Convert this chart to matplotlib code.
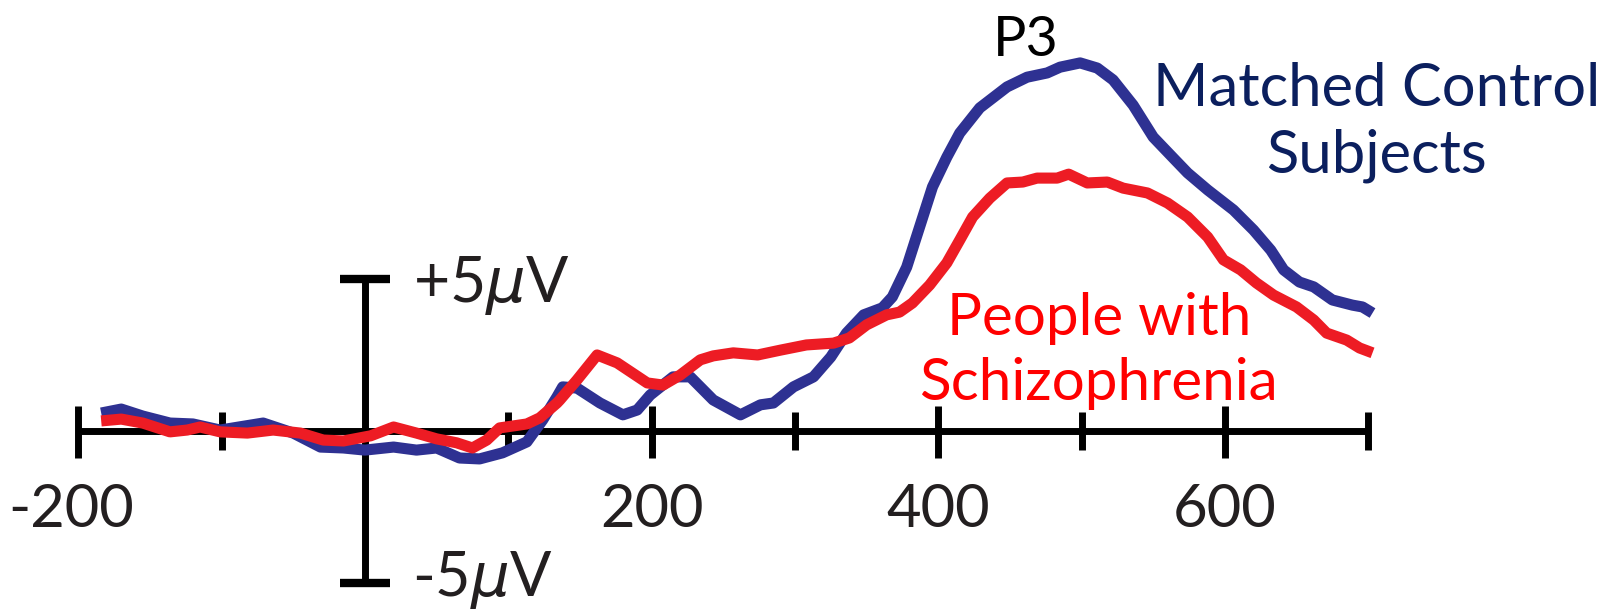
import matplotlib
matplotlib.use("Agg")
import matplotlib.pyplot as plt

# grand average ERP at Pz, time in ms, amplitude in microvolts
t_ctrl = [-184, -170, -155, -136, -120, -101, -71, -50, -31, -15, 0, 20, 36, 50, 66, 80,
          96, 113, 124, 134, 138, 148, 164, 180, 190, 199, 215, 227, 243, 262, 276, 285,
          299, 313, 325, 336, 348, 361, 368, 378, 387, 396, 406, 415, 429, 448, 462, 476,
          485, 499, 511, 522, 536, 550, 564, 574, 588, 606, 620, 632, 641, 652, 662, 675,
          689, 696, 703]
v_ctrl = [0.59, 0.72, 0.49, 0.26, 0.23, 0.03, 0.26, -0.07, -0.53, -0.56, -0.63, -0.53,
          -0.63, -0.56, -0.89, -0.92, -0.72, -0.36, 0.36, 1.12, 1.45, 1.41, 0.92, 0.53,
          0.69, 1.18, 1.78, 1.78, 1.02, 0.53, 0.86, 0.92, 1.45, 1.78, 2.43, 3.22, 3.82,
          4.05, 4.41, 5.39, 6.71, 8.03, 9.01, 9.80, 10.63, 11.32, 11.64, 11.78, 11.97,
          12.11, 11.94, 11.55, 10.72, 9.67, 8.98, 8.49, 7.93, 7.27, 6.61, 5.95, 5.30,
          4.90, 4.74, 4.31, 4.14, 4.08, 3.88]

t_scz = [-184, -170, -155, -136, -124, -115, -101, -82, -64, -45, -29, -15, 4, 20, 36,
         50, 64, 75, 85, 94, 113, 122, 134, 136, 148, 162, 176, 197, 208, 220, 234, 243,
         257, 274, 290, 308, 327, 338, 350, 364, 373, 382, 394, 406, 415, 424, 436, 448,
         459, 469, 483, 491, 504, 518, 529, 546, 560, 574, 588, 599, 611, 622, 634, 650,
         662, 671, 685, 694, 703]
v_scz = [0.33, 0.39, 0.26, -0.03, 0.03, 0.13, -0.03, -0.07, 0.03, -0.07, -0.30, -0.33,
         -0.16, 0.13, -0.07, -0.26, -0.39, -0.56, -0.30, 0.10, 0.23, 0.43, 0.92, 1.02,
         1.68, 2.50, 2.24, 1.58, 1.51, 1.84, 2.34, 2.47, 2.57, 2.50, 2.66, 2.83, 2.89,
         3.06, 3.49, 3.82, 3.91, 4.21, 4.80, 5.53, 6.28, 7.04, 7.66, 8.16, 8.19, 8.32,
         8.32, 8.45, 8.16, 8.19, 7.99, 7.83, 7.50, 7.04, 6.38, 5.63, 5.30, 4.87, 4.47,
         4.08, 3.65, 3.22, 2.99, 2.73, 2.57]

major_ticks = [-200, 200, 400, 600]
minor_ticks = [-100, 100, 300, 500, 700]
tick_labels = ["-200", "200", "400", "600"]

blue = "#2e3192"
red = "#ed1c24"
ink = "#231f20"

plt.rcParams["font.family"] = ["Lato", "DejaVu Sans"]

fig = plt.figure(figsize=(16.09, 6.13), dpi=100)
ax = fig.add_axes([0, 0, 1, 1])
ax.set_xlim(-254.6, 868.0)
ax.set_ylim(-5.99, 14.18)
ax.axis("off")

# time axis with tick marks
ax.plot([-200, 700], [0, 0], color="black", lw=5, solid_capstyle="butt", zorder=2)
for t in major_ticks:
    ax.plot([t, t], [-0.89, 0.82], color="black", lw=5, solid_capstyle="butt", zorder=2)
for t in minor_ticks:
    ax.plot([t, t], [-0.62, 0.62], color="black", lw=5, solid_capstyle="butt", zorder=2)
for t, lab in zip(major_ticks, tick_labels):
    x = t - 5 if t < 0 else t
    ax.text(x, -3.16, lab, ha="center", va="baseline", fontsize=43, color=ink)

# 5 uV calibration bar at time zero
ax.plot([0, 0], [-5, 5], color="black", lw=5, solid_capstyle="butt", zorder=2)
for v in (-5, 5):
    ax.plot([-17.4, 17.4], [v, v], color="black", lw=6, solid_capstyle="butt", zorder=2)
ax.text(33.6, 4.24, r"+5$\mu$V", ha="left", va="baseline", fontsize=45, color=ink)
ax.text(32.8, -5.42, r"-5$\mu$V", ha="left", va="baseline", fontsize=44, color=ink)

# waveforms
ax.plot(t_ctrl, v_ctrl, color=blue, lw=8, solid_joinstyle="round",
        solid_capstyle="butt", zorder=3)
ax.plot(t_scz, v_scz, color=red, lw=8, solid_joinstyle="round",
        solid_capstyle="butt", zorder=4)

ax.text(461, 12.34, "P3", ha="center", va="baseline", fontsize=40, color="black")
ax.text(706, 10.69, "Matched Control", ha="center", va="baseline", fontsize=43,
        color="#0b1f5e")
ax.text(706, 8.52, "Subjects", ha="center", va="baseline", fontsize=43, color="#0b1f5e")
ax.text(512, 3.16, "People with", ha="center", va="baseline", fontsize=42, color="#ff0000")
ax.text(512, 1.02, "Schizophrenia", ha="center", va="baseline", fontsize=42,
        color="#ff0000")

fig.savefig("out.png", dpi=100)
